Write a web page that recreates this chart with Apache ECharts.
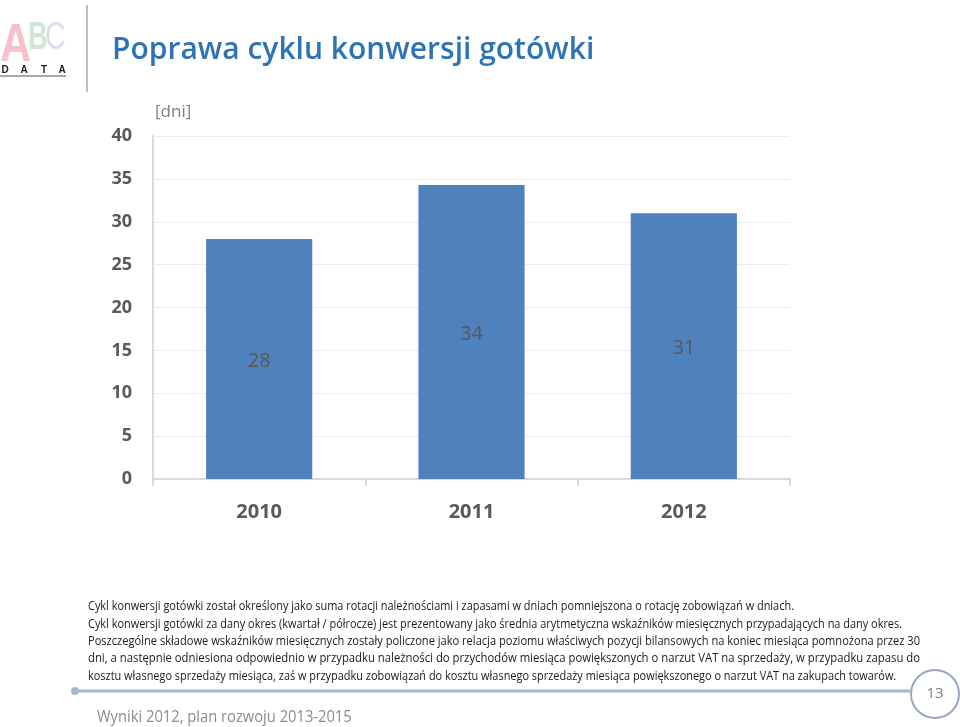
<!DOCTYPE html>
<html>
<head>
<meta charset="utf-8">
<script src="https://cdn.jsdelivr.net/npm/echarts@6/dist/echarts.min.js"></script>
<style>
  html, body { margin: 0; padding: 0; background: #fff; }
  #main { width: 960px; height: 727px; }
</style>
</head>
<body>
<div id="main"></div>
<script>
// dane wykresu
const years = ['2010', '2011', '2012']
const cycleDays = [28, 34.3, 31]
const yTicks = { min: 0, max: 40, step: 5 }

const noteLines = [
  'Cykl konwersji gotówki został określony jako suma rotacji należnościami i zapasami w dniach pomniejszona o rotację zobowiązań w dniach.',
  'Cykl konwersji gotówki za dany okres (kwartał / półrocze) jest prezentowany jako średnia arytmetyczna wskaźników miesięcznych przypadających na dany okres.',
  'Poszczególne składowe wskaźników miesięcznych zostały policzone jako relacja poziomu właściwych pozycji bilansowych na koniec miesiąca pomnożona przez 30',
  'dni, a następnie odniesiona odpowiednio w przypadku należności do przychodów miesiąca powiększonych o narzut VAT na sprzedaży, w przypadku zapasu do',
  'kosztu własnego sprzedaży miesiąca, zaś w przypadku zobowiązań do kosztu własnego sprzedaży miesiąca powiększonego o narzut VAT na zakupach towarów.'
]
const justified = [false, false, true, true, false]

const chart = echarts.init(document.getElementById('main'))
const font = '"Open Sans", "Noto Sans", sans-serif'

// pomiar szerokości tekstu, żeby przypis zajmował tyle miejsca co w oryginale
const ctx = document.createElement('canvas').getContext('2d')
const noteFont = '12px ' + font
ctx.font = noteFont
const baseScale = 706 / ctx.measureText(noteLines[0]).width

const graphics = [
  // logo
  { type: 'text', x: 0, y: 73, style: { text: 'A', font: 'bold 54px "Liberation Sans"', fill: '#f6c1cc', verticalAlign: 'bottom' }, scaleX: 0.8 },
  { type: 'text', x: 28, y: 58, style: { text: 'B', font: 'bold 38px "Liberation Sans"', fill: '#cde6d8', verticalAlign: 'bottom' }, scaleX: 0.72 },
  { type: 'text', x: 45, y: 58, style: { text: 'C', font: '38px "Liberation Sans"', fill: '#e0dbee', verticalAlign: 'bottom' }, scaleX: 0.75 },
  { type: 'text', x: 5, y: 70, style: { text: 'D', font: 'bold 10px "Liberation Sans"', fill: '#222', align: 'center', verticalAlign: 'middle' } },
  { type: 'text', x: 24, y: 70, style: { text: 'A', font: 'bold 10px "Liberation Sans"', fill: '#222', align: 'center', verticalAlign: 'middle' } },
  { type: 'text', x: 44, y: 70, style: { text: 'T', font: 'bold 10px "Liberation Sans"', fill: '#222', align: 'center', verticalAlign: 'middle' } },
  { type: 'text', x: 62, y: 70, style: { text: 'A', font: 'bold 10px "Liberation Sans"', fill: '#222', align: 'center', verticalAlign: 'middle' } },
  { type: 'line', shape: { x1: 0, y1: 76, x2: 66, y2: 76 }, style: { stroke: '#555', lineWidth: 1 } },
  { type: 'line', shape: { x1: 87, y1: 5, x2: 87, y2: 92 }, style: { stroke: '#b8c0d0', lineWidth: 2 } },
  // tytuł
  { type: 'text', left: 112, top: 35, style: { text: 'Poprawa cyklu konwersji gotówki', font: '600 30px ' + font, fill: '#2e74b5' } },
  { type: 'text', left: 155, top: 104, style: { text: '[dni]', font: '17px ' + font, fill: '#808080' } },
  // stopka
  { type: 'line', shape: { x1: 75, y1: 691, x2: 910, y2: 691 }, style: { stroke: '#a9b6cc', lineWidth: 3 } },
  { type: 'circle', shape: { cx: 75, cy: 691, r: 4 }, style: { fill: '#a9b6cc' } },
  { type: 'circle', shape: { cx: 935, cy: 694, r: 24 }, style: { fill: '#fff', stroke: '#9aa6bd', lineWidth: 2 } },
  { type: 'text', x: 935, y: 694, style: { text: '13', font: '15px ' + font, fill: '#7f7f7f', align: 'center', verticalAlign: 'middle' } },
  { type: 'text', x: 97, y: 717, scaleX: 0.92, style: { text: 'Wyniki 2012, plan rozwoju 2013-2015', font: '16px ' + font, fill: '#8c8c8c', verticalAlign: 'middle' } }
]

noteLines.forEach((line, i) => {
  const w = ctx.measureText(line).width
  const s = justified[i] ? 832 / w : baseScale
  graphics.push({
    type: 'text', x: 88, y: 607 + i * 17.3, scaleX: s,
    style: { text: line, font: noteFont, fill: '#1a1a1a', verticalAlign: 'middle' }
  })
})

const option = {
  backgroundColor: '#fff',
  animation: false,
  grid: { left: 153, right: 170, top: 136, bottom: 248 },
  xAxis: {
    type: 'category',
    data: years,
    axisLine: { lineStyle: { color: '#d9d9d9', width: 2 } },
    axisTick: { show: true, length: 7, lineStyle: { color: '#d9d9d9', width: 2 } },
    axisLabel: { color: '#595959', fontSize: 20, fontWeight: 'bold', fontFamily: font, margin: 23 }
  },
  yAxis: {
    type: 'value',
    min: yTicks.min,
    max: yTicks.max,
    interval: yTicks.step,
    axisLine: { show: true, lineStyle: { color: '#d9d9d9', width: 2 } },
    axisTick: { show: false },
    splitLine: { lineStyle: { color: '#ececec' } },
    axisLabel: { color: '#595959', fontSize: 18, fontWeight: 'bold', fontFamily: font, margin: 21 }
  },
  series: [{
    type: 'bar',
    data: cycleDays,
    barWidth: '50%',
    itemStyle: { color: '#4f81bd' },
    label: {
      show: true,
      position: 'inside',
      color: '#595959',
      fontSize: 20,
      fontFamily: font,
      offset: [0, 2],
      formatter: p => Math.round(p.value)
    }
  }],
  graphic: graphics
}

chart.setOption(option)
</script>
</body>
</html>
